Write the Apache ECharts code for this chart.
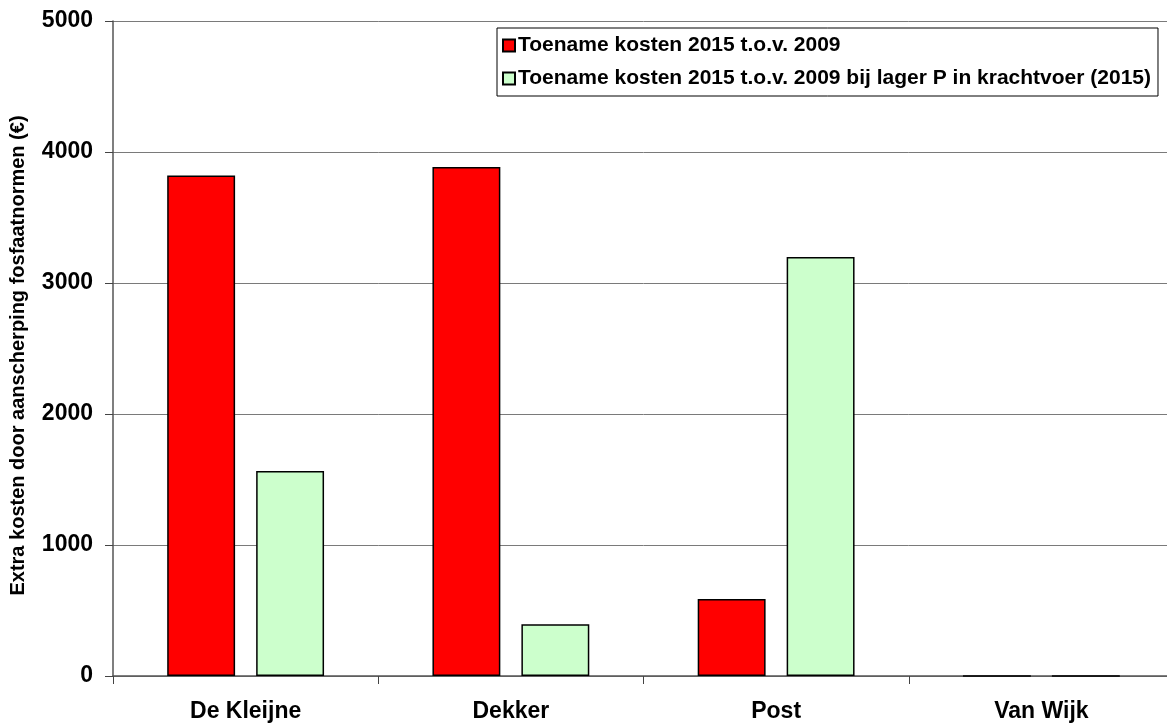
<!DOCTYPE html>
<html>
<head>
<meta charset="utf-8">
<script src="https://cdn.jsdelivr.net/npm/echarts@6/dist/echarts.min.js"></script>
<style>
html,body{margin:0;padding:0;background:#fff;overflow:hidden;width:1167px;height:725px;}
/* canvas is slightly wider than the window so the last category runs past the edge */
#chart{width:1174px;height:725px;}
</style>
</head>
<body>
<div id="chart"></div>
<script>
const categories = ['De Kleijne', 'Dekker', 'Post', 'Van Wijk'];
const seriesNames = [
  'Toename kosten 2015 t.o.v. 2009',
  'Toename kosten 2015 t.o.v. 2009 bij lager P in krachtvoer (2015)'
];
const costIncrease = [3820, 3885, 588, 0];
const costIncreaseLowP = [1565, 395, 3198, 0];
const yTicks = [0, 1000, 2000, 3000, 4000, 5000];
const yAxisTitle = 'Extra kosten door aanscherping fosfaatnormen (€)';

const font = 'Arial, "Liberation Sans", sans-serif';
const chart = echarts.init(document.getElementById('chart'), null, {renderer: 'canvas'});

chart.setOption({
  animation: false,
  backgroundColor: '#ffffff',
  textStyle: {fontFamily: font},
  grid: {left: 112, right: 0, top: 21, bottom: 49, containLabel: false},
  legend: {
    orient: 'vertical',
    left: 497, top: 28,
    padding: [7, 7, 7, 5],
    itemGap: 12,
    itemWidth: 12, itemHeight: 12,
    icon: 'rect',
    borderColor: '#000', borderWidth: 1,
    backgroundColor: '#fff',
    textStyle: {fontFamily: font, fontWeight: 'bold', fontSize: 21, color: '#000', padding: [0, 0, 0, -2]},
    data: seriesNames
  },
  xAxis: {
    type: 'category',
    data: categories,
    axisLine: {lineStyle: {color: '#555', width: 1.5}},
    axisTick: {show: true, length: 8, lineStyle: {color: '#444'}},
    axisLabel: {fontFamily: font, fontWeight: 'bold', fontSize: 23, color: '#000', margin: 24}
  },
  yAxis: {
    type: 'value',
    min: yTicks[0], max: yTicks[yTicks.length - 1], interval: 1000,
    name: yAxisTitle,
    nameLocation: 'middle',
    nameGap: 85,
    nameRotate: 90,
    nameTextStyle: {fontFamily: font, fontWeight: 'bold', fontSize: 20, color: '#000', padding: [0, 14, 0, 0]},
    axisLine: {show: true, lineStyle: {color: '#555', width: 1.5}},
    axisTick: {show: true, length: 8, lineStyle: {color: '#444'}},
    axisLabel: {
      fontFamily: font, fontWeight: 'bold', fontSize: 23, color: '#000', margin: 20,
      formatter: v => String(v)
    },
    splitLine: {show: true, lineStyle: {color: '#7a7a7a', width: 1}}
  },
  series: [
    {
      name: seriesNames[0], type: 'bar', data: costIncrease,
      barWidth: '25.6%', barGap: '31%',
      itemStyle: {color: '#ff0000', borderColor: '#000', borderWidth: 1.5}
    },
    {
      name: seriesNames[1], type: 'bar', data: costIncreaseLowP,
      barWidth: '25.6%', barGap: '31%',
      itemStyle: {color: '#ccffcc', borderColor: '#000', borderWidth: 1.5}
    }
  ]
});
</script>
</body>
</html>
